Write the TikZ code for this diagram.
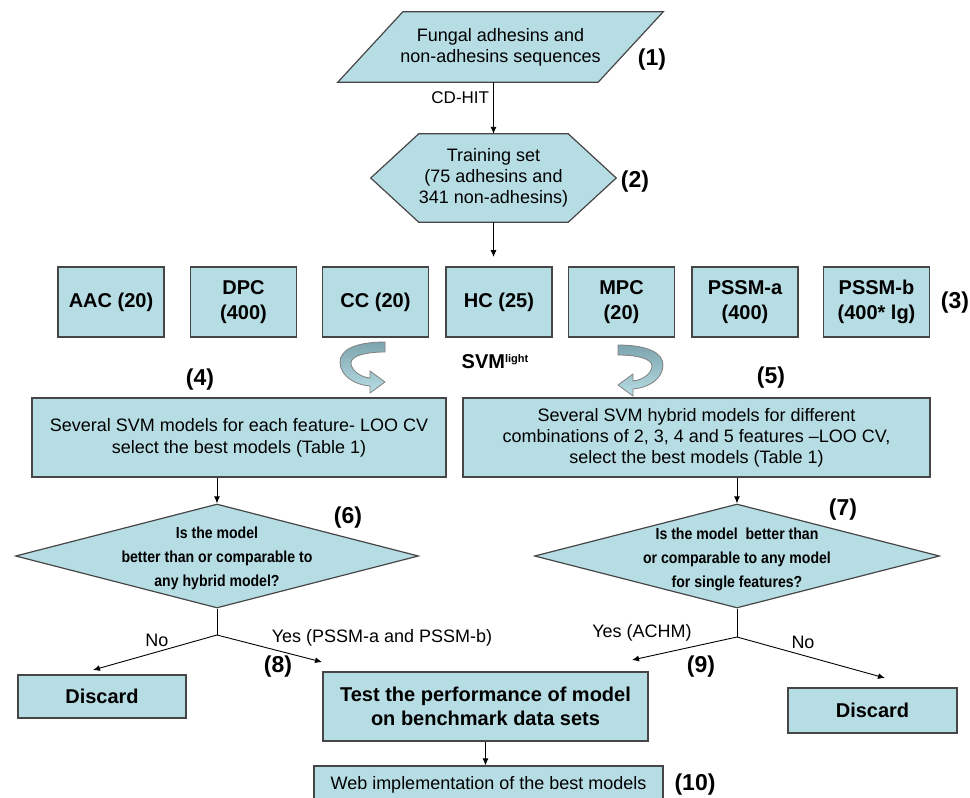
\documentclass[tikz,border=0pt]{standalone}
\usepackage{fontspec}
\setmainfont{Liberation Sans}
\newfontfamily\narrowsf[FakeStretch=0.88]{Liberation Sans}
\usetikzlibrary{shapes.geometric, arrows.meta, positioning}
\definecolor{flowfill}{RGB}{183,221,228}
\definecolor{edgegray}{RGB}{70,70,70}
\definecolor{ribbondark}{RGB}{125,165,175}
\pgfdeclarelayer{shapes}
\pgfsetlayers{shapes,main}
\tikzset{
  flowbox/.style={draw=edgegray, fill=flowfill, line width=1.2pt, inner sep=0pt, align=center, font=\fontsize{18}{22}\selectfont},
  flowshape/.style={draw=edgegray, fill=flowfill, line width=1.2pt, line join=miter},
  plaintext/.style={inner sep=0pt, align=center, font=\fontsize{18}{21}\selectfont},
  featbox/.style={flowbox, minimum width=106pt, minimum height=70pt, font=\bfseries\fontsize{20}{25}\selectfont},
  bigbox/.style={flowbox, font=\bfseries\fontsize{20}{24}\selectfont},
  decision/.style={diamond, draw=edgegray, fill=flowfill, line width=1.2pt, inner sep=0pt, minimum width=403pt, minimum height=104pt},
  qtext/.style={inner sep=0pt, align=center, font=\narrowsf\bfseries\fontsize{16}{24}\selectfont},
  steplabel/.style={inner sep=0pt, font=\bfseries\fontsize{23}{26}\selectfont},
  edgelabel/.style={inner sep=0pt, font=\fontsize{18}{20}\selectfont},
  flowarrow/.style={-{Latex[length=7pt,width=6pt]}, line width=0.9pt},
  plainline/.style={line width=0.9pt},
  ribbon/.style={top color=ribbondark, bottom color=flowfill, draw=gray, line width=0.8pt}
}
\begin{document}
\begin{tikzpicture}[x=1pt, y=-1pt]
  \useasboundingbox (0,0) rectangle (970,798);
  %input sequences and training set
  \node[plaintext, minimum width=260pt, minimum height=70pt] (src) at (500.5,47) {Fungal adhesins and\\non-adhesins sequences};
  \node[plaintext, minimum width=143pt, minimum height=88pt] (train) at (493.5,178) {Training set\\(75 adhesins and\\341 non-adhesins)};
  \begin{pgfonlayer}{shapes}
    \draw[flowshape] ([xshift=32.5pt]src.north west) -- ([xshift=32.5pt]src.north east)
      -- ([xshift=-32.5pt]src.south east) -- ([xshift=-32.5pt]src.south west) -- cycle;
    \draw[flowshape] (train.north west) -- (train.north east) -- ([xshift=48pt]train.east)
      -- (train.south east) -- (train.south west) -- ([xshift=-48pt]train.west) -- cycle;
  \end{pgfonlayer}
  \draw[flowarrow] (src.south -| train.north) -- node[pos=0.3, left=4pt, edgelabel, font=\fontsize{17}{20}\selectfont] (cdhit) {CD-HIT} (train.north);
  \node[steplabel] (n1) at (652,60) {(1)};
  \node[steplabel] (n2) at (635,182) {(2)};
  \coordinate (fan) at (493.5,257);
  \draw[flowarrow] (train.south) -- (fan);
  %feature boxes
  \node[featbox] (aac) at (111,302) {AAC (20)};
  \node[featbox] (dpc) at (243.5,302) {DPC\\(400)};
  \node[featbox] (cc) at (375.5,302) {CC (20)};
  \node[featbox] (hc) at (499,302) {HC (25)};
  \node[featbox] (mpc) at (621.5,302) {MPC\\(20)};
  \node[featbox] (pssma) at (745,302) {PSSM-a\\(400)};
  \node[featbox] (pssmb) at (876.5,302) {PSSM-b\\(400* lg)};
  \node[steplabel] (n3) at (955,303) {(3)};
  %curved arrows
  \begin{scope}[shift={(385,342)}]
    \draw[ribbon] (0,0) .. controls (-30,0) and (-45,8) .. (-45,20) .. controls (-45,34) and (-30,43) .. (-15,44)
      -- (-15,51) -- (0,40) -- (-15,29) -- (-15,36) .. controls (-25,35) and (-34,28) .. (-34,21)
      .. controls (-34,14) and (-20,10) .. (0,10) -- cycle;
  \end{scope}
  \begin{scope}[shift={(618,345)}, xscale=-1]
    \draw[ribbon] (0,0) .. controls (-30,0) and (-45,8) .. (-45,20) .. controls (-45,34) and (-30,43) .. (-15,44)
      -- (-15,51) -- (0,40) -- (-15,29) -- (-15,36) .. controls (-25,35) and (-34,28) .. (-34,21)
      .. controls (-34,14) and (-20,10) .. (0,10) -- cycle;
  \end{scope}
  \node[steplabel, font=\bfseries\fontsize{20}{22}\selectfont] (svm) at (495,362) {SVM\raisebox{6pt}{\fontsize{11}{11}\selectfont light}};
  \node[steplabel] (n4) at (200,380) {(4)};
  \node[steplabel] (n5) at (771,378) {(5)};
  %model selection
  \node[flowbox, minimum width=414pt, minimum height=79pt] (single) at (239,437.5) {Several SVM models for each feature- LOO CV\\select the best models (Table 1)};
  \node[flowbox, minimum width=467pt, minimum height=79pt, font=\fontsize{18}{21}\selectfont] (hybrid) at (696.5,437.5) {Several SVM hybrid models for different\\combinations of 2, 3, 4 and 5 features –LOO CV,\\select the best models (Table 1)};
  %decisions
  \node[decision] (q6) at (217,556) {};
  \node[qtext] (q6text) at (217,558) {Is the model\\better than or comparable to\\any hybrid model?};
  \node[decision, minimum width=405pt] (q7) at (737,556) {};
  \node[qtext] (q7text) at (737,559) {Is the model~ better than\\or comparable to any model\\for single features?};
  \draw[flowarrow] (single.south -| q6.north) -- (q6.north);
  \draw[flowarrow] (hybrid.south -| q7.north) -- (q7.north);
  \node[steplabel] (n6) at (348,518) {(6)};
  \node[steplabel] (n7) at (843,510) {(7)};
  %branches
  \coordinate (q6fork) at (217,635);
  \coordinate (q6no) at (93,670);
  \coordinate (q6yes) at (322,662);
  \draw[plainline] (q6.south) -- (q6fork);
  \draw[flowarrow] (q6fork) -- (q6no);
  \draw[flowarrow] (q6fork) -- (q6yes);
  \coordinate (q7fork) at (737,637);
  \coordinate (q7yes) at (632,660);
  \coordinate (q7no) at (885,678);
  \draw[plainline] (q7.south) -- (q7fork);
  \draw[flowarrow] (q7fork) -- (q7yes);
  \draw[flowarrow] (q7fork) -- (q7no);
  \node[edgelabel] (nol) at (157,640) {No};
  \node[edgelabel] (yesl) at (382,638) {Yes (PSSM-a and PSSM-b)};
  \node[edgelabel] (yesr) at (642,633) {Yes (ACHM)};
  \node[edgelabel] (nor) at (803,642) {No};
  \node[steplabel] (n8) at (278,667) {(8)};
  \node[steplabel] (n9) at (701,667) {(9)};
  %outcomes
  \node[bigbox, minimum width=168pt, minimum height=43pt] (discardl) at (102,696.5) {Discard};
  \node[bigbox, minimum width=169pt, minimum height=45pt] (discardr) at (872.5,710.5) {Discard};
  \node[bigbox, minimum width=325pt, minimum height=69pt] (bench) at (485.5,706.5) {Test the performance of model\\on benchmark data sets};
  \node[flowbox, minimum width=349pt, minimum height=38pt] (web) at (488.5,785) {Web implementation of the best models};
  \draw[flowarrow] (bench.south) -- (bench.south |- web.north);
  \node[steplabel] (n10) at (695,785) {(10)};
\end{tikzpicture}
\end{document}
